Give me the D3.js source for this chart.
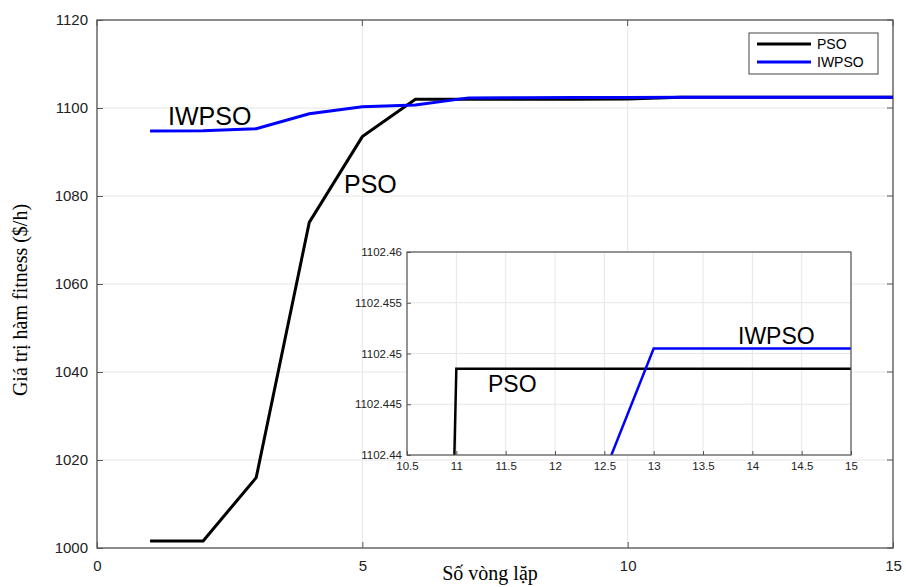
<!DOCTYPE html>
<html>
<head>
<meta charset="utf-8">
<script src="https://cdn.jsdelivr.net/npm/d3@7"></script>
<style>
  body { margin: 0; background: #fff; }
  svg { display: block; }
</style>
</head>
<body>
<svg id="chart"></svg>
<script>
// iterations and best fitness per iteration
const iterations = [1, 2, 3, 4, 5, 6, 7, 8, 9, 10, 11, 12, 13, 14, 15];
const psoValues = [1001.6, 1001.6, 1016.0, 1074.0, 1093.5, 1102.0, 1102.0, 1102.0, 1102.0, 1102.02,
  1102.4485, 1102.4485, 1102.4485, 1102.4485, 1102.4485];
const iwpsoValues = [1094.8, 1094.85, 1095.3, 1098.7, 1100.3, 1100.7, 1102.3, 1102.35, 1102.4, 1102.41,
  1102.42, 1102.426, 1102.4505, 1102.4505, 1102.4505];
const seriesNames = ['PSO', 'IWPSO'];
const seriesColors = ['#000000', '#0000ff'];
const mainXTicks = [0, 5, 10, 15];
const mainYTicks = [1000, 1020, 1040, 1060, 1080, 1100, 1120];
const insetXTicks = [10.5, 11, 11.5, 12, 12.5, 13, 13.5, 14, 14.5, 15];
const insetYTicks = [1102.44, 1102.445, 1102.45, 1102.455, 1102.46];

const width = 906, height = 587;
const svg = d3.select('#chart').attr('width', width).attr('height', height);

const sans = '"Liberation Sans", Arial, sans-serif';
const serif = '"Liberation Serif", "Times New Roman", serif';

const x = d3.scaleLinear().domain([0, 15]).range([97, 893]);
const y = d3.scaleLinear().domain([1000, 1120]).range([548, 20]);

const series = [
  { name: seriesNames[0], color: seriesColors[0], values: psoValues },
  { name: seriesNames[1], color: seriesColors[1], values: iwpsoValues }
];

// ---- main plot grid ----
svg.append('g').selectAll('line').data(mainYTicks).join('line')
  .attr('x1', x(0)).attr('x2', x(15))
  .attr('y1', d => y(d)).attr('y2', d => y(d))
  .style('stroke', '#e6e6e6').style('stroke-width', 1);
svg.append('g').selectAll('line').data(mainXTicks).join('line')
  .attr('x1', d => x(d)).attr('x2', d => x(d))
  .attr('y1', y(1000)).attr('y2', y(1120))
  .style('stroke', '#e6e6e6').style('stroke-width', 1);

// box
svg.append('rect')
  .attr('x', x(0)).attr('y', y(1120))
  .attr('width', x(15) - x(0)).attr('height', y(1000) - y(1120))
  .style('fill', 'none').style('stroke', '#555').style('stroke-width', 1.3);

// axes (ticks inward)
svg.append('g')
  .attr('transform', `translate(0,${y(1000)})`)
  .call(d3.axisBottom(x).tickValues(mainXTicks).tickSize(-6).tickPadding(12).tickFormat(d3.format('d')))
  .call(g => g.select('.domain').remove())
  .call(g => g.selectAll('line').style('stroke', '#555'))
  .call(g => g.selectAll('text').style('font-family', sans).style('font-size', '15px').style('fill', '#222'));
svg.append('g')
  .attr('transform', `translate(${x(0)},0)`)
  .call(d3.axisLeft(y).tickValues(mainYTicks).tickSize(-6).tickPadding(9).tickFormat(d3.format('d')))
  .call(g => g.select('.domain').remove())
  .call(g => g.selectAll('line').style('stroke', '#555'))
  .call(g => g.selectAll('text').style('font-family', sans).style('font-size', '15px').style('fill', '#222'));
// right / top ticks
svg.append('g').selectAll('line').data(mainYTicks).join('line')
  .attr('x1', x(15)).attr('x2', x(15) - 6)
  .attr('y1', d => y(d)).attr('y2', d => y(d))
  .style('stroke', '#555');
svg.append('g').selectAll('line').data(mainXTicks).join('line')
  .attr('x1', d => x(d)).attr('x2', d => x(d))
  .attr('y1', y(1120)).attr('y2', y(1120) + 6)
  .style('stroke', '#555');

// axis titles
svg.append('text')
  .attr('x', 490).attr('y', 580)
  .attr('text-anchor', 'middle')
  .style('font-family', serif).style('font-size', '20px')
  .text('Số vòng lặp');
svg.append('text')
  .attr('transform', 'translate(27,300) rotate(-90)')
  .attr('text-anchor', 'middle')
  .style('font-family', serif).style('font-size', '20px')
  .text('Giá trị hàm fitness ($/h)');

// main lines
const mainLine = d3.line().x((d, i) => x(iterations[i])).y(d => y(d));
svg.append('g').selectAll('path').data(series).join('path')
  .attr('d', d => mainLine(d.values))
  .style('fill', 'none')
  .style('stroke', d => d.color)
  .style('stroke-width', 3)
  .style('stroke-linejoin', 'miter');

// annotations
svg.append('text').attr('x', 168).attr('y', 125)
  .style('font-family', sans).style('font-size', '25px').text('IWPSO');
svg.append('text').attr('x', 344).attr('y', 193)
  .style('font-family', sans).style('font-size', '25px').text('PSO');

// legend
const legend = svg.append('g');
legend.append('rect')
  .attr('x', 749).attr('y', 33).attr('width', 129).attr('height', 41)
  .style('fill', '#fff').style('stroke', '#444').style('stroke-width', 1);
series.forEach((s, i) => {
  legend.append('line')
    .attr('x1', 757).attr('x2', 811)
    .attr('y1', 44 + i * 18).attr('y2', 44 + i * 18)
    .style('stroke', s.color).style('stroke-width', 3);
  legend.append('text')
    .attr('x', 817).attr('y', 49 + i * 18)
    .style('font-family', sans).style('font-size', '14px')
    .text(s.name);
});

// ---- inset ----
const ix = d3.scaleLinear().domain([10.5, 15]).range([407, 851]);
const iy = d3.scaleLinear().domain([1102.44, 1102.46]).range([455, 252]);

const inset = svg.append('g');
inset.append('rect')
  .attr('x', ix(10.5)).attr('y', iy(1102.46))
  .attr('width', ix(15) - ix(10.5)).attr('height', iy(1102.44) - iy(1102.46))
  .style('fill', '#fff');

inset.append('g').selectAll('line').data(insetXTicks).join('line')
  .attr('x1', d => ix(d)).attr('x2', d => ix(d))
  .attr('y1', iy(1102.44)).attr('y2', iy(1102.46))
  .style('stroke', '#e6e6e6');
inset.append('g').selectAll('line').data(insetYTicks).join('line')
  .attr('x1', ix(10.5)).attr('x2', ix(15))
  .attr('y1', d => iy(d)).attr('y2', d => iy(d))
  .style('stroke', '#e6e6e6');

svg.append('clipPath').attr('id', 'insetClip')
  .append('rect')
  .attr('x', ix(10.5)).attr('y', iy(1102.46))
  .attr('width', ix(15) - ix(10.5)).attr('height', iy(1102.44) - iy(1102.46));

const insetLine = d3.line().x((d, i) => ix(iterations[i])).y(d => iy(d));
inset.append('g').attr('clip-path', 'url(#insetClip)')
  .selectAll('path').data(series).join('path')
  .attr('d', d => insetLine(d.values))
  .style('fill', 'none')
  .style('stroke', d => d.color)
  .style('stroke-width', 2.5);

inset.append('rect')
  .attr('x', ix(10.5)).attr('y', iy(1102.46))
  .attr('width', ix(15) - ix(10.5)).attr('height', iy(1102.44) - iy(1102.46))
  .style('fill', 'none').style('stroke', '#555').style('stroke-width', 1.2);

inset.append('g')
  .attr('transform', `translate(0,${iy(1102.44)})`)
  .call(d3.axisBottom(ix).tickValues(insetXTicks).tickSize(-4).tickPadding(7).tickFormat(d3.format('')))
  .call(g => g.select('.domain').remove())
  .call(g => g.selectAll('line').style('stroke', '#555'))
  .call(g => g.selectAll('text').style('font-family', sans).style('font-size', '11.5px').style('fill', '#222'));
inset.append('g')
  .attr('transform', `translate(${ix(10.5)},0)`)
  .call(d3.axisLeft(iy).tickValues(insetYTicks).tickSize(-4).tickPadding(5).tickFormat(d3.format('')))
  .call(g => g.select('.domain').remove())
  .call(g => g.selectAll('line').style('stroke', '#555'))
  .call(g => g.selectAll('text').style('font-family', sans).style('font-size', '11.5px').style('fill', '#222'));

inset.append('text').attr('x', 488).attr('y', 392)
  .style('font-family', sans).style('font-size', '23px').text('PSO');
inset.append('text').attr('x', 738).attr('y', 344)
  .style('font-family', sans).style('font-size', '23px').text('IWPSO');
</script>
</body>
</html>
